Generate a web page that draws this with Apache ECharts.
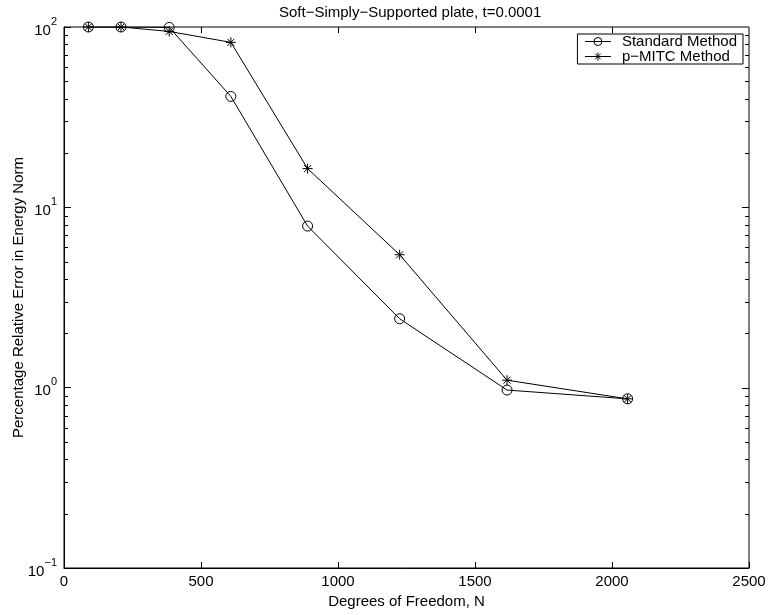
<!DOCTYPE html>
<html>
<head>
<meta charset="utf-8">
<script src="https://cdn.jsdelivr.net/npm/echarts@6/dist/echarts.min.js"></script>
<style>
  html, body { margin: 0; padding: 0; background: #fff; }
  #chart { width: 769px; height: 615px; }
</style>
</head>
<body>
<div id="chart"></div>
<script>
// Degrees of freedom for each p-level
const dof = [89, 208, 384, 609, 889, 1225, 1617, 2057];
// Percentage relative error in energy norm
const standardErr = [100, 100, 99.5, 41.2, 7.87, 2.41, 0.97, 0.867];
const mitcErr = [100, 100, 94.5, 82.2, 16.4, 5.46, 1.10, 0.867];
// Axis ticks
const xTicks = [0, 500, 1000, 1500, 2000, 2500];
const yMajor = [0.1, 1, 10, 100];
const minorMult = [2, 3, 4, 5, 6, 7, 8, 9];

const FONT = 'Liberation Sans, Arial, sans-serif';
const FS = 15;

const chart = echarts.init(document.getElementById('chart'), null, { renderer: 'canvas' });

function pairs(ys) { return dof.map((x, i) => [x, ys[i]]); }

const asterisk = 'path://M0,-10L0,10M-10,0L10,0M-7,-7L7,7M-7,7L7,-7';

const supLabel = v => {
  const e = Math.round(Math.log10(v));
  const es = e < 0 ? '\u2212' + (-e) : String(e);
  return '{b|10}{e|' + es + '}';
};

const option = {
  backgroundColor: '#fff',
  animation: false,
  title: {
    text: 'Soft\u2212Simply\u2212Supported plate, t=0.0001',
    left: 274, top: 0,
    textStyle: { fontFamily: FONT, fontSize: FS, fontWeight: 'normal', color: '#000' }
  },
  grid: {
    left: 64, right: 20, top: 27, bottom: 47,
    outerBoundsMode: 'none', containLabel: false,
    show: true, borderColor: '#000', borderWidth: 1, backgroundColor: '#fff'
  },
  legend: {
    orient: 'vertical',
    right: 26, top: 34,
    backgroundColor: '#fff',
    borderColor: '#000', borderWidth: 1,
    padding: [0, 6, 0, 7],
    itemGap: 0,
    itemWidth: 26, itemHeight: 10,
    itemStyle: { borderWidth: 1 },
    lineStyle: { width: 1 },
    textStyle: { fontFamily: FONT, fontSize: FS, color: '#000', lineHeight: 15, padding: [0, 0, 0, 6] },
    data: ['Standard Method', 'p\u2212MITC Method']
  },
  xAxis: {
    type: 'value', min: xTicks[0], max: xTicks[xTicks.length - 1], interval: 500,
    name: 'Degrees of Freedom, N', nameLocation: 'middle', nameGap: 25,
    nameTextStyle: { fontFamily: FONT, fontSize: FS, color: '#000' },
    axisLine: { onZero: false, lineStyle: { color: '#000', width: 1 } },
    axisTick: { inside: true, length: 6, lineStyle: { color: '#000' } },
    axisLabel: { fontFamily: FONT, fontSize: FS, color: '#000', margin: 6, formatter: v => String(v) },
    splitLine: { show: false }
  },
  yAxis: {
    type: 'log', logBase: 10, min: yMajor[0], max: yMajor[yMajor.length - 1],
    name: 'Percentage Relative Error in Energy Norm', nameLocation: 'middle', nameGap: 38,
    nameMoveOverlap: false,
    nameTextStyle: { fontFamily: FONT, fontSize: FS, color: '#000' },
    axisLine: { lineStyle: { color: '#000', width: 1 } },
    axisTick: { inside: true, length: 7, lineStyle: { color: '#000' } },
    axisLabel: {
      margin: 7, color: '#000',
      formatter: supLabel,
      rich: {
        b: { fontFamily: FONT, fontSize: FS, color: '#000', lineHeight: 22, verticalAlign: 'bottom' },
        e: { fontFamily: FONT, fontSize: 11, color: '#000', lineHeight: 22, verticalAlign: 'top' }
      }
    },
    splitLine: { show: false }
  },
  series: [{
    name: 'Standard Method',
    type: 'line',
    data: pairs(standardErr),
    symbol: 'circle', symbolSize: 10,
    lineStyle: { color: '#000', width: 1 },
    itemStyle: { color: 'rgba(255,255,255,0)', borderColor: '#000', borderWidth: 1 },
    z: 3
  }, {
    name: 'p\u2212MITC Method',
    type: 'line',
    data: pairs(mitcErr),
    symbol: asterisk, symbolSize: 10,
    lineStyle: { color: '#000', width: 1 },
    itemStyle: { color: 'none', borderColor: '#000', borderWidth: 1 },
    z: 3
  }]
};

chart.setOption(option);

// Frame ticks: top/right copies of the major ticks and log-spaced minor ticks
const xMin = xTicks[0], xMax = xTicks[xTicks.length - 1];
const yMin = yMajor[0], yMax = yMajor[yMajor.length - 1];
const px = (x, y) => chart.convertToPixel({ gridIndex: 0 }, [x, y]);
const tick = (x1, y1, x2, y2) => ({
  type: 'line', silent: true, z: 10,
  shape: { x1, y1, x2, y2 }, style: { stroke: '#000', lineWidth: 1 }
});
const frameTicks = [];
const snap = v => Math.round(v) + 0.5;
xTicks.slice(1, -1).forEach(t => {
  const p = px(t, yMax);
  const x = snap(p[0]);
  frameTicks.push(tick(x, p[1], x, p[1] + 6));
});
yMajor.slice(1, -1).forEach(t => {
  const p = px(xMax, t);
  const y = snap(p[1]);
  frameTicks.push(tick(p[0] - 7, y, p[0], y));
});
yMajor.slice(0, -1).forEach(d => {
  minorMult.forEach(m => {
    const l = px(xMin, d * m);
    const r = px(xMax, d * m);
    const y = snap(l[1]);
    frameTicks.push(tick(l[0], y, l[0] + 4, y));
    frameTicks.push(tick(r[0] - 4, y, r[0], y));
  });
});
chart.setOption({ graphic: frameTicks });
</script>
</body>
</html>
